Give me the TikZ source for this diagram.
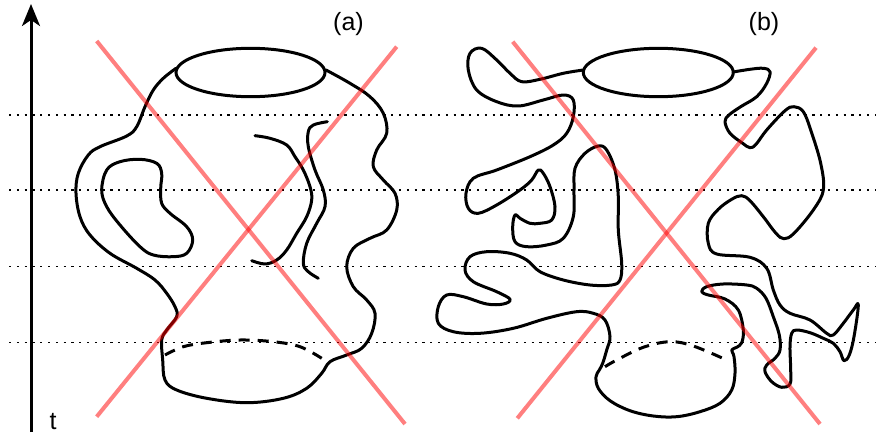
\documentclass[tikz,border=0pt]{standalone}
\usepackage{fontspec}
\setmainfont{Liberation Sans}
\usetikzlibrary{arrows.meta,shapes.geometric}
\begin{document}
\begin{tikzpicture}[x=1pt,y=-1pt,
  curve/.style={line width=3pt,line join=round,line cap=round},
  dashcurve/.style={line width=3pt,dash pattern=on 11pt off 8pt},
  dotline/.style={line width=1.4pt,dash pattern=on 2.2pt off 5.6pt},
  cross/.style={line width=4pt,draw=red,draw opacity=0.5},
  lbl/.style={font=\fontsize{25}{30}\selectfont,inner sep=0pt}]
\useasboundingbox (0,0) rectangle (876,436);
% dotted time slices
\foreach \yy/\nm in {115/d1,190/d2,266.7/d3,342.3/d4}{
  \coordinate (\nm s) at (9,\yy);
  \coordinate (\nm e) at (876,\yy);
  \draw[dotline] (\nm s) -- (\nm e);
}
% time axis
\coordinate (tbot) at (31,432);
\coordinate (ttop) at (31,4);
\draw[line width=3pt,-{Stealth[length=22pt,width=18pt,inset=6pt]}] (tbot) -- (ttop);
\node[lbl] (tlab) at (53,422) {t};
\node[lbl] (alab) at (348.5,24) {(a)};
\node[lbl] (blab) at (764,24) {(b)};
% ---------- (a) ----------
\node[draw,ellipse,line width=3pt,minimum width=149pt,minimum height=48.4pt,inner sep=0pt] (ea) at (250.5,72.5) {};
\draw[curve] plot[smooth,tension=0.6] coordinates {
(176,68.3) (163.3,78.3) (153.3,90) (145,106.7) (136.7,126.7) (126.7,136) (100,146.7) (88.3,155) (78.3,173.3) (76,193.3) (80,216.7) (90,235) (110,253.3) (136.7,268.3) (155,280) (166.7,293.3) (175,306.7) (176.7,316.7) (166.7,330) (161.7,340) (162.7,360) (165,380) (176.7,390) (206.7,398.3) (246.7,402.7) (283.3,398.3) (306.7,388.3) (321.7,373.3) (330,361.7) (346.7,355) (361.7,348.3) (371.7,333.3) (375,313.3) (366.7,300) (353.3,286.7) (346.7,266.7) (353.3,248.3) (370,238.3) (386.7,230) (396.7,210) (395,193.3) (383.3,180) (373.3,166.7) (376.7,150) (386.7,133.3) (383.3,113.3) (370,96.7) (350,83.3) (326,70)};
\draw[curve] plot[smooth cycle,tension=0.6] coordinates {
(106.7,170) (120,161.7) (140,159.3) (156.7,163.3) (161.7,173.3) (160.7,188.3) (161.7,203.3) (170,213.3) (186.7,226.7) (192.7,240) (186.7,253.3) (173.3,256.7) (153.3,255) (140,246.7) (120,225) (106.7,206.7) (101.7,190)};
\draw[curve] plot[smooth,tension=0.6] coordinates {
(255,135.7) (270,138.3) (286.7,145) (295,156.7) (303.3,170) (310,186.7) (311.7,200) (306.7,216.7) (296.7,233.3) (286.7,250) (276.7,260) (265,264) (251.7,260.7)};
\draw[curve] plot[smooth,tension=0.6] coordinates {
(327.3,121.7) (313.3,125) (308.3,131.7) (308.3,146.7) (315,170) (323.3,190) (325,206.7) (316.7,223.3) (306.7,243.3) (303.3,263.3) (308.3,271.7) (318.3,278.3)};
\draw[dashcurve] plot[smooth,tension=0.6] coordinates {
(165,355) (183.3,346.7) (206.7,342.7) (240,340) (273.3,341.7) (300,346.7) (321.7,358.3)};
% ---------- (b) ----------
\node[draw,ellipse,line width=3pt,minimum width=150pt,minimum height=48.4pt,inner sep=0pt] (eb) at (658.3,72.5) {};
\draw[curve] plot[smooth,tension=0.6] coordinates {
(583.3,70) (563.3,73.3) (540,79.3) (521.7,81.7) (510,73.3) (496.7,60) (481.7,48.3) (470,53.3) (468.3,70) (476.7,90) (496.7,101.7) (518.3,106) (543.3,100) (563.3,95) (573.3,100) (573.3,116.7) (566.7,133.3) (553.3,145) (530,156.7) (496.7,170) (473.3,178.3) (466,193.3) (468.3,208.3) (478.3,213.3) (496.7,205) (520,190) (531.7,180) (538.3,170) (543.3,173.3) (550,186.7) (555,206.7) (551.7,220) (540,223.3) (530,223.3) (520,218.3) (515,215) (512.7,226.7) (515,241.7) (526.7,246.7) (546.7,245) (563.3,238.3) (573.3,216.7) (574,190) (575,168.3) (585,153.3) (598.3,146) (606.7,150) (615,170) (618.3,196.7) (618.3,230) (621.7,263.3) (620,280) (611.7,285) (590,285) (563.3,280) (540,271.7) (526.7,260) (510,253.3) (486.7,251.7) (470,256.7) (465,270) (473.3,281.7) (496.7,291.7) (510,299.3) (503.3,304) (486.7,304) (463.3,296.7) (446.7,295) (438.3,306.7) (438.3,323.3) (453.3,331.7) (480,333.3) (513.3,328.3) (546.7,318.3) (576.7,311.7) (593.3,313.3) (605,320) (610,336.7) (606.7,350) (602.7,363.3) (599.3,370) (596,376.7) (598.3,388.3) (610,400.7) (630,410.7) (653.3,416) (676.7,416.7) (700,411.7) (720,403.3) (731.7,390) (735,373.3) (734,356.7) (731.7,350) (736.7,347.3) (741.7,342.7) (743.3,330) (738.3,310) (725,299) (708.3,295) (701.7,291.7) (706.7,286.7) (723.3,284) (746.7,285) (756.7,288.3) (766,298.3) (773.3,316.7) (779.3,335) (780,350) (775,358.3) (766.7,365) (765,371.7) (771.7,381.7) (781.7,387.3) (790,384) (790.7,370) (790,346.7) (791.7,333.3) (796.7,330) (810,332.7) (823.3,338.3) (833.3,343.3) (840,351.7) (844,360.7) (849.3,355) (854,336.7) (858.3,305) (853.3,310) (843.3,323.3) (833.3,335) (826.7,333.3) (810,320) (790,313.3) (780,305) (773.3,290) (766.7,268.3) (750,257.3) (716.7,254) (708.3,243.3) (708.3,223.3) (718.3,209.3) (731.7,199.3) (741.7,195.7) (750,200.7) (763.3,216.7) (776,233.3) (784,238.7) (794,233.3) (813.3,210) (823.3,190) (820.7,163.3) (810.7,130) (803.3,111.7) (794,106.7) (785,110.7) (766.7,130) (756,144.3) (750,147.7) (742.7,143.3) (730,133.3) (725,121.7) (729,115) (740.7,106.7) (756.7,96.7) (766.7,83.3) (770,71.7) (763.3,68.3) (750,69.3) (733.3,72)};
\draw[dashcurve] plot[smooth,tension=0.6] coordinates {
(605,366.7) (616.7,360) (643.3,347.3) (670,341.7) (693.3,346) (725,359.3)};
% ---------- red crosses ----------
\coordinate (a1) at (96.7,41);   \coordinate (a2) at (405,424);
\coordinate (a3) at (396.7,46.7); \coordinate (a4) at (96.7,416.7);
\coordinate (b1) at (512.7,41.7); \coordinate (b2) at (820,424);
\coordinate (b3) at (816,47.7);   \coordinate (b4) at (517.3,418.3);
\draw[cross] (a1) -- (a2);
\draw[cross] (a3) -- (a4);
\draw[cross] (b1) -- (b2);
\draw[cross] (b3) -- (b4);
\end{tikzpicture}
\end{document}
